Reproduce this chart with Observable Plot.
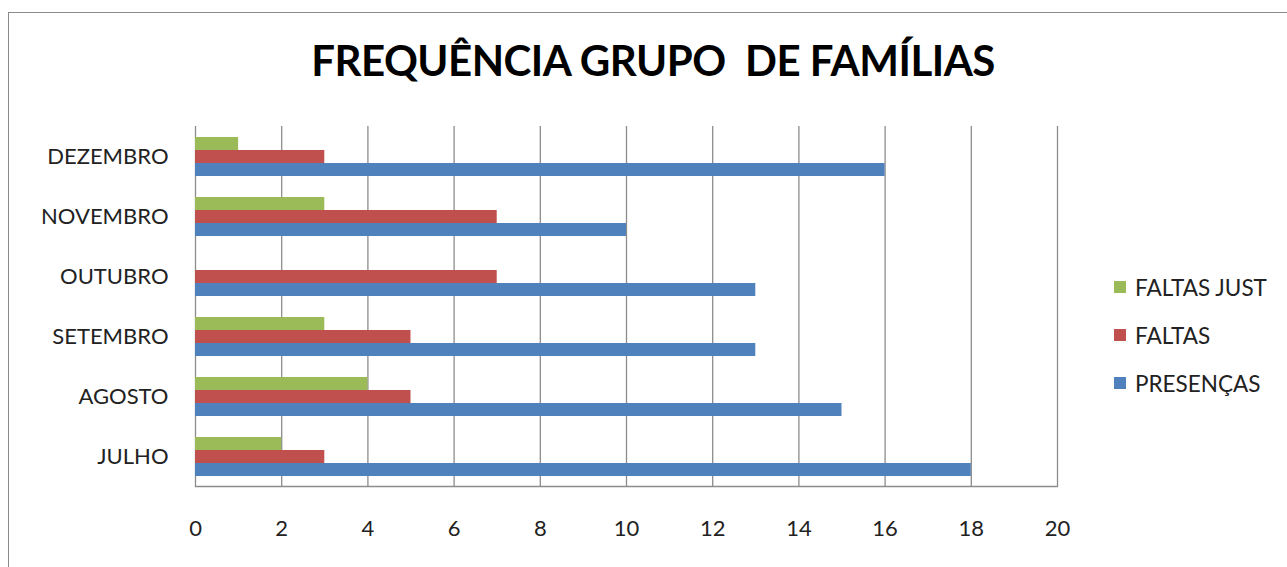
<!DOCTYPE html>
<html>
<head>
<meta charset="utf-8">
<script src="https://cdn.jsdelivr.net/npm/d3@7"></script>
<script src="https://cdn.jsdelivr.net/npm/@observablehq/plot@0.6"></script>
<style>
  html, body { margin: 0; padding: 0; background: #fff; overflow: hidden; }
  #wrap { position: relative; width: 1287px; height: 567px; overflow: hidden; font-family: Lato, "Open Sans", sans-serif; }
  #border { position: absolute; left: 8px; top: 12px; width: 1400px; height: 700px; border: 1.5px solid #8a8a8a; box-sizing: border-box; }
  #title { position: absolute; left: 0; top: 35px; width: 1306px; text-align: center; font-weight: 700; font-size: 42px; color: #000; white-space: pre; letter-spacing: -0.5px; }
  #chart { position: absolute; left: 0; top: 0; }
  #legend { position: absolute; left: 1114px; top: 263px; font-size: 22.5px; color: #222; }
  .item { display: flex; align-items: center; height: 48px; }
  .sw { width: 12px; height: 12px; margin-right: 9px; }
</style>
</head>
<body>
<div id="wrap">
  <div id="border"></div>
  <div id="chart"></div>
  <div id="title"></div>
  <div id="legend"></div>
</div>
<script>
const title = "FREQUÊNCIA GRUPO  DE FAMÍLIAS";
const months = ["DEZEMBRO", "NOVEMBRO", "OUTUBRO", "SETEMBRO", "AGOSTO", "JULHO"];
const series = ["FALTAS JUST", "FALTAS", "PRESENÇAS"];
const colors = ["#9BBB59", "#C0504D", "#4F81BD"];
const faltasJust = [1, 3, 0, 3, 4, 2];
const faltas = [3, 7, 7, 5, 5, 3];
const presencas = [16, 10, 13, 13, 15, 18];
const xTicks = [0, 2, 4, 6, 8, 10, 12, 14, 16, 18, 20];

const values = [faltasJust, faltas, presencas];
const data = [];
months.forEach((m, i) => series.forEach((s, j) => data.push({month: m, series: s, value: values[j][i]})));

document.getElementById("title").textContent = title;

const chart = Plot.plot({
  width: 1287,
  height: 567,
  marginTop: 124,
  marginBottom: 80,
  marginLeft: 195,
  marginRight: 230,
  style: {fontFamily: "Lato, 'Open Sans', sans-serif", background: "transparent"},
  x: {domain: [0, 20], ticks: xTicks},
  y: {domain: series, paddingInner: 0, paddingOuter: 0.7, axis: null},
  fy: {domain: months, padding: 0},
  color: {domain: series, range: colors},
  marks: [
    Plot.ruleX(xTicks, {stroke: "#8c8c8c", strokeWidth: 1.3}),
    Plot.barX(data, {fy: "month", y: "series", x: "value", fill: "series"}),
    Plot.frame({anchor: "bottom", fy: () => "JULHO", stroke: "#8c8c8c", strokeWidth: 1.3}),
    Plot.axisX({anchor: "bottom", ticks: xTicks, tickSize: 0, tickPadding: 34, fontSize: 22, fill: "#222", label: null}),
    Plot.axisFy({anchor: "left", tickSize: 0, tickPadding: 27, fontSize: 22, fill: "#222", label: null})
  ]
});
document.getElementById("chart").appendChild(chart);

const legend = document.getElementById("legend");
series.forEach((s, j) => {
  const row = document.createElement("div");
  row.className = "item";
  const sw = document.createElement("div");
  sw.className = "sw";
  sw.style.background = colors[j];
  const t = document.createElement("span");
  t.textContent = s;
  row.appendChild(sw);
  row.appendChild(t);
  legend.appendChild(row);
});
</script>
</body>
</html>
